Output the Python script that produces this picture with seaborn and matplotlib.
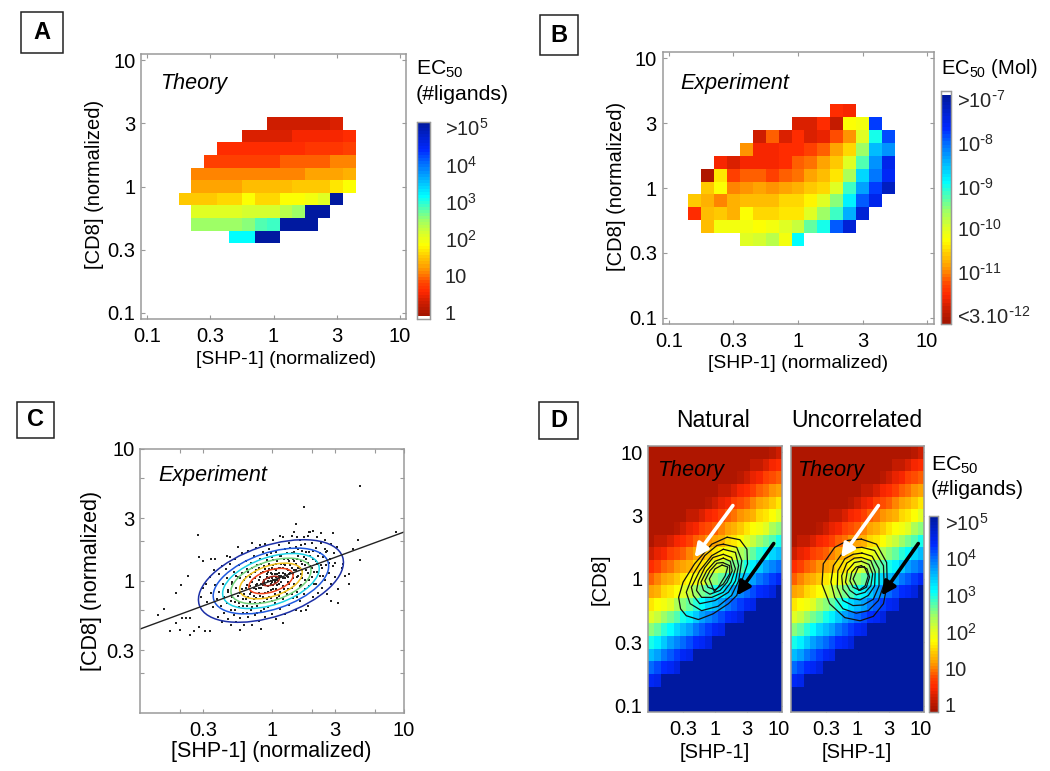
import numpy as np
import pandas as pd
import seaborn as sns
import matplotlib.pyplot as plt
from matplotlib.colors import LinearSegmentedColormap
from matplotlib.patches import Ellipse, Rectangle

W, H = 1050, 771

# Panel A: log10 positions of the rows, first column of each row, colour level of the cells
a_cd8 = [0.5, 0.4, 0.3, 0.2, 0.1, 0.0, -0.1, -0.2, -0.3, -0.4]
a_shp0 = [0.0, -0.2, -0.4, -0.5, -0.6, -0.6, -0.7, -0.6, -0.6, -0.3]
a_vals = [
    [.35, .35, .35, .35, .35, .45],
    [.45, .45, .45, .45, .6, .6, .6, .6, .7],
    [.65, .65, .65, .65, .65, .65, .65, .72, .72, .72, .85],
    [.85, .85, .85, .85, .85, .85, .95, .95, .95, .95, 1.1, 1.1],
    [1.1, 1.1, 1.15, 1.15, 1.15, 1.15, 1.15, 1.15, 1.15, 1.25, 1.25, 1.3, 1.4],
    [1.3, 1.3, 1.3, 1.3, 1.45, 1.45, 1.45, 1.45, 1.5, 1.5, 1.55, 1.65, 1.8],
    [1.5, 1.5, 1.5, 1.6, 1.6, 1.8, 1.6, 1.6, 1.85, 1.85, 1.95, 2.1, 5],
    [2.05, 2.05, 2.05, 2.05, 2.12, 2.12, 2.12, 2.3, 2.45, 5, 5],
    [2.45, 2.45, 2.45, 2.45, 2.55, 2.75, 2.85, 5, 5, 5],
    [3.1, 3.1, 5, 5],
]

# Panel B
b_cd8 = [0.6, 0.5, 0.4, 0.3, 0.2, 0.1, 0.0, -0.1, -0.2, -0.3, -0.4]
b_shp0 = [0.3, 0.0, -0.3, -0.4, -0.6, -0.7, -0.7, -0.8, -0.8, -0.7, -0.4]
b_vals = [
    [.7, .55],
    [.45, .45, .65, .25, 1.8, 1.95, 4.2],
    [.35, 1.0, .45, .65, .45, .5, .9, 1.2, 2.1, 3.0, 4.1],
    [1.2, .55, .55, .65, .65, .85, 1.0, 1.3, 1.6, 2.45, 3.5, 3.7],
    [.55, .45, .55, .6, .55, .65, 1.0, 1.05, 1.25, 1.5, 2.05, 2.8, 3.7, 4.4],
    [.1, 1.65, .8, 1.0, 1.0, .85, .95, 1.05, 1.25, 1.45, 1.7, 2.35, 3.3, 3.85, 4.3],
    [1.5, 1.8, 1.15, 1.2, 1.25, 1.2, 1.25, 1.35, 1.5, 1.6, 2.05, 2.85, 3.6, 4.2, 4.7],
    [1.5, 1.4, 1.15, 1.35, 1.45, 1.45, 1.45, 1.6, 1.6, 1.75, 2.05, 2.5, 3.15, 4.0, 4.4],
    [.7, 1.45, 1.55, 1.35, 1.8, 1.6, 1.6, 1.7, 1.7, 2.1, 2.45, 2.85, 3.55, 4.6],
    [1.45, 1.95, 1.95, 1.95, 1.85, 1.95, 2.1, 2.2, 2.7, 3.0, 4.0, 4.6],
    [2.05, 2.15, 2.3, 1.95, 3.1],
]

# Panel C: cells, log10 [SHP-1] and log10 [CD8]
c_shp = [
    .67, .24, .18, -.56, .94, .65, .67, .58, .58, .55, .50, .50, .45, -.73, -.69, -.64,
    -.55, -.52, -.46, -.43, -.82, -.86, -.77, -.70, -.62, -.59, -.55, -.51, -.47, -.73,
    -.68, -.65, -.62, -.24, -.08, .08, .22, .26, .40, .46, .37, .31, .29, .28, .17, .06,
    .19, .24, -.15, -.26, -.09, -.34, -.32, .61, .54, .53, .48,
    -.54, -.52, -.50, -.49, -.47, -.46, -.45, -.44, -.43, -.42, -.41, -.40, -.40, -.39,
    -.38, -.38, -.37, -.36, -.36, -.35, -.34, -.34, -.33, -.33, -.32, -.31, -.31, -.30,
    -.30, -.29, -.29, -.28, -.28, -.27, -.27, -.26, -.25, -.25, -.24, -.24, -.23, -.23,
    -.22, -.22, -.21, -.21, -.20, -.20, -.19, -.19, -.18, -.18, -.17, -.17, -.16, -.16,
    -.15, -.15, -.14, -.14, -.13, -.13, -.12, -.12, -.11, -.11, -.10, -.10, -.09, -.09,
    -.08, -.08, -.07, -.07, -.06, -.06, -.05, -.05, -.04, -.04, -.03, -.03, -.02, -.02,
    -.01, -.01, 0, 0, 0, .01, .01, .01, .02, .02, .03, .03, .03, .04, .04, .05, .05, .05,
    .06, .06, .07, .07, .08, .08, .08, .09, .09, .10, .10, .10, .11, .11, .12, .12, .13,
    .13, .13, .14, .15, .15, .15, .16, .16, .17, .17, .18, .18, .19, .19, .20, .20, .21,
    .21, .22, .22, .23, .23, .24, .25, .25, .26, .26, .27, .27, .28, .28, .29, .30, .30,
    .31, .31, .32, .33, .33, .34, .34, .35, .36, .36, .37, .38, .38, .39, .40, .40, .41,
    .42, .42, .43, .44, .45, .45, .46, .47, .48, .49,
    -.03, -.02, -.01, 0, 0, .01, .02, .03, .04, -.05, -.06, -.08, .06, .08, .05, -.04,
    .02, -.10, .10, -.12, .12,
    -.33, -.31, -.30, -.28, -.27, -.26, -.25, -.24, -.23, -.22, -.21, -.20, -.20, -.19,
    -.19, -.18, -.18, -.17, -.17, -.16, -.16, -.15, -.15, -.14, -.14, -.13, -.13, -.12,
    -.12, -.11, -.11, -.10, -.10, -.09, -.09, -.08, -.08, -.07, -.07, -.06, -.06, -.05,
    -.05, -.04, -.04, -.03, -.03, -.02, -.02, -.01, -.01, -.01, 0, 0, .01, .01, .02, .02,
    .03, .03, .04, .04, .05, .05, .06, .06, .07, .07, .08, .08, .09, .09, .10, .10, .11,
    .11, .12, .12, .13, .13, .14, .14, .15, .15, .16, .16, .17, .17, .18, .18, .19, .19,
    .20, .20, .21, .21, .22, .22, .23, .23, .24, .25, .25, .26, .27, .27, .28, .29, .30,
    .31, .32, .33, .34, .35, .37, .39, .41, .43,
]
c_cd8 = [
    .72, .56, .43, .35, .37, .31, .16, .05, -.02, .04, -.06, -.17, -.15, -.09, -.03, .04,
    .18, .15, .17, .17, -.21, -.26, -.38, -.37, -.41, -.38, -.35, -.38, -.38, -.32,
    -.28, -.28, -.28, -.37, -.36, -.32, -.23, -.22, .24, .36, .36, .38, .37, .37, .37, .34,
    .33, .33, .29, .26, .27, .19, .18, .24, .13, .10, .14,
    -.12, -.05, -.02, -.16, .03, -.09, -.20, .08, -.03, -.14, -.27, .05, -.08, -.19,
    .11, -.31, -.02, -.12, -.24, .09, .02, -.17, -.29, -.07, .13, -.22, -.33, -.01,
    -.12, .07, -.26, .17, -.16, -.05, -.31, .03, .12, -.20, -.09, -.28, .21, .06,
    -.14, -.24, .01, -.33, .15, -.05, -.19, .09, -.27, .23, -.10, .03, -.22, .14,
    -.33, -.01, .19, -.14, .07, -.26, -.06, .25, .12, -.19, .01, -.30, .17, -.11,
    .06, -.23, .22, -.03, .11, -.16, -.27, .28, .03, .16, -.08, -.20, .09, .24,
    -.02, -.13, .05, .18, -.25, -.06, .12, .31, .01, -.17, .08, .22, -.29, -.03, .15, -.11, .04, .27,
    -.21, .10, -.01, .19, .06, -.14, .33, .13, -.06, .24, .02, -.25, .09, -.10, .17, -.01, .29,
    .05, -.18, .12, -.05, .21, .34, .02, -.13, .15, .08, -.22, .26, .03, -.08, .19, .10, -.15,
    .31, .05, -.03, .23, .13, -.10, .28, .01, .17, .08, -.19, .34, -.04, .22, .11, .03, .29,
    -.12, .17, .07, .25, -.02, .33, .13, -.09, .21, .04, .29, .10, -.05, .18, .01, .31, .12,
    -.10, .23, .06, .17, .28, -.02, .11, .21, .03, .26,
    0, .02, 0, -.01, .02, .01, -.01, .03, .01, -.03, .01, -.02, .03, .02, .06, .05,
    .05, -.05, .05, -.03, .03,
    -.08, -.15, -.02, -.22, .04, -.11, -.17, .02, -.06, -.19, -.10, -.14, .03, -.03,
    -.24, .07, -.12, -.16, -.04, .05, -.08, -.20, .10, -.05, -.11, .02, -.17, .08,
    -.13, -.02, -.24, .10, -.09, .03, -.17, -.05, .13, -.12, .07, -.21, -.01, .09,
    -.09, -.14, .20, .07, -.04, -.12, .13, -.07, .06, .21, -.15, .10, -.03, .16, -.10, .09,
    -.06, .13, .05, -.13, .10, -.02, .19, -.08, .04, .13, -.04, .10, .02, .17, -.08, .12, .04,
    .21, -.06, .08, .15, -.02, .06, .25, .10, -.10, .17, .05, -.02, .22, .08, .13, -.12, .17,
    .04, .24, .10, -.04, .15, .27, .02, .08, .18, .12, -.06, .22, .06, .14, .01, .19, .10,
    .23, -.02, .15, .07, .19, .12, .04, .22, .14,
]
fit_shp = [-1.0, 1.0]
fit_cd8 = [-.364, .371]
# fitted ellipses of the cloud
ell_w = [1.145, .912, .763, .632, .495, .35, .132]
ell_h = [.536, .427, .358, .296, .232, .164, .062]
ell_colors = ['#1c2fa6', '#1e58de', '#1cd2e6', '#72d27a', '#f2c21e', '#f0421a', '#a8261a']
ell_center = (-.008, 0.0)
ell_angle = 18.6

# Panel D: theory landscape, top row is [CD8] = 10
d_vals = [
    [.1] * 18 + [.15, .2, .35],
    [.1] * 15 + [.1, .25, .3, .45, .55, .7],
    [.1] * 13 + [.15, .2, .35, .5, .6, .8, .9, 1.0],
    [.1] * 10 + [.1, .25, .3, .45, .55, .7, .85, .95, 1.05, 1.2, 1.3],
    [.1] * 8 + [.15, .2, .35, .5, .6, .8, .9, 1.0, 1.1, 1.25, 1.35, 1.5, 1.65],
    [.1] * 5 + [.1, .25, .3, .45, .55, .7, .85, .95, 1.05, 1.2, 1.3, 1.4, 1.6, 1.7, 1.85, 2.05],
    [.1] * 3 + [.15, .2, .35, .5, .6, .8, .9, 1.0, 1.1, 1.25, 1.35, 1.5, 1.65, 1.8, 1.95, 2.1, 2.35, 2.55],
    [.1, .25, .3, .45, .55, .7, .85, .95, 1.05, 1.2, 1.3, 1.4, 1.6, 1.7, 1.85, 2.05, 2.2, 2.45, 2.6, 2.8, 3.0],
    [.35, .5, .6, .8, .9, 1.0, 1.1, 1.25, 1.35, 1.5, 1.65, 1.8, 1.95, 2.1, 2.35, 2.55, 2.7, 2.9, 3.1, 3.3, 3.5],
    [.7, .85, .95, 1.05, 1.2, 1.3, 1.4, 1.6, 1.7, 1.85, 2.05, 2.2, 2.45, 2.6, 2.8, 3.0, 3.2, 3.4, 3.6, 3.75, 3.95],
    [1.0, 1.1, 1.25, 1.35, 1.5, 1.65, 1.8, 1.95, 2.1, 2.35, 2.55, 2.7, 2.9, 3.1, 3.3, 3.5, 3.65, 3.85, 4.0, 4.15, 4.3],
    [1.3, 1.4, 1.6, 1.7, 1.85, 2.05, 2.2, 2.45, 2.6, 2.8, 3.0, 3.2, 3.4, 3.6, 3.75, 3.95, 4.1, 4.25, 4.35, 4.5, 5],
    [1.65, 1.8, 1.95, 2.1, 2.35, 2.55, 2.7, 2.9, 3.1, 3.3, 3.5, 3.65, 3.85, 4.0, 4.15, 4.3, 4.4, 5, 5, 5, 5],
    [2.05, 2.2, 2.45, 2.6, 2.8, 3.0, 3.2, 3.4, 3.6, 3.75, 3.95, 4.1, 4.25, 4.35, 4.5] + [5] * 6,
    [2.55, 2.7, 2.9, 3.1, 3.3, 3.5, 3.65, 3.85, 4.0, 4.15, 4.3, 4.4] + [5] * 9,
    [3.0, 3.2, 3.4, 3.6, 3.75, 3.95, 4.1, 4.25, 4.35, 4.5] + [5] * 11,
    [3.5, 3.65, 3.85, 4.0, 4.15, 4.3, 4.4] + [5] * 14,
    [3.95, 4.1, 4.25, 4.35, 4.5] + [5] * 16,
    [4.3, 4.4] + [5] * 19,
    [5] * 21,
    [5] * 21,
]

# cell density contours, log10 coordinates
nat_x = [
    [.19, .39, .50, .51, .42, .34, .21, -.03, -.26, -.45, -.54, -.57, -.50, -.32, -.05],
    [.13, .34, .42, .37, .26, .05, -.21, -.39, -.45, -.34, -.16, .03],
    [.13, .32, .37, .32, .21, 0, -.24, -.34, -.37, -.24, -.05],
    [.13, .26, .32, .25, .13, -.05, -.21, -.29, -.26, -.16, -.03],
    [.13, .24, .27, .19, .08, -.08, -.18, -.22, -.13, 0],
    [.12, .23, .23, .13, 0, -.11, -.16, -.08, .03],
    [.11, .20, .16, .05, -.01, -.09, 0],
]
nat_y = [
    [.33, .31, .235, .12, -.015, -.13, -.195, -.275, -.32, -.29, -.235, -.145, -.025, .12, .275],
    [.275, .25, .145, -.015, -.13, -.215, -.25, -.195, -.105, .04, .185, .265],
    [.235, .21, .105, -.015, -.105, -.17, -.195, -.13, -.065, .065, .185],
    [.195, .17, .08, -.025, -.105, -.145, -.145, -.09, -.015, .09, .17],
    [.165, .14, .065, -.025, -.09, -.12, -.09, -.025, .065, .14],
    [.13, .105, .04, -.04, -.085, -.065, -.015, .065, .125],
    [.11, .095, .025, -.065, -.10, 0, .08],
]
unc_x = [
    [.06, .30, .46, .47, .41, .25, .04, -.20, -.44, -.56, -.54, -.36, -.15],
    [.07, .27, .41, .42, .33, .17, -.02, -.23, -.36, -.42, -.38, -.23, -.07],
    [.07, .23, .34, .34, .25, .09, -.07, -.23, -.32, -.31, -.2, -.07],
    [.06, .21, .28, .27, .17, .04, -.12, -.23, -.25, -.17, -.05],
    [.06, .18, .24, .21, .12, -.02, -.12, -.19, -.16, -.05],
    [.06, .15, .19, .14, .04, -.07, -.12, -.09, -.02],
    [.11, .17, .12, .02, -.07, .01],
]
unc_y = [
    [.315, .275, .13, -.04, -.195, -.295, -.33, -.305, -.195, -.04, .12, .25, .305],
    [.25, .225, .105, -.04, -.17, -.25, -.27, -.235, -.145, -.025, .105, .21, .245],
    [.205, .18, .08, -.055, -.16, -.205, -.21, -.17, -.065, .065, .16, .195],
    [.17, .145, .055, -.055, -.13, -.165, -.15, -.08, .025, .125, .165],
    [.14, .115, .04, -.055, -.105, -.125, -.09, -.025, .065, .13],
    [.105, .08, .015, -.065, -.09, -.065, -.015, .055, .095],
    [.095, .025, -.055, -.09, 0, .09],
]

tick_log = [-1.0, -0.5, 0.0, 0.5, 1.0]
tick_names = ['0.1', '0.3', '1', '3', '10']


def mt(s):
    return '$\\mathregular{' + s + '}$'


def neg(n):
    return mt('10^{\\text{-}' + str(n) + '}')


ligand_labels = ['1', '10', mt('10^{2}'), mt('10^{3}'), mt('10^{4}'), '>' + mt('10^{5}')]
mol_labels = ['<3.' + neg(12), neg(11), neg(10), neg(9), neg(8), '>' + neg(7)]

sns.set_theme(style='white')
plt.rcParams['font.family'] = ['Liberation Sans', 'DejaVu Sans']
plt.rcParams['mathtext.default'] = 'regular'
plt.rcParams['font.size'] = 14.5
plt.rcParams['text.color'] = 'black'
plt.rcParams['axes.labelcolor'] = 'black'

GREY = '#9a9a9a'
FS = 14.5

# the colour scale
cmap = LinearSegmentedColormap.from_list('ec50', [
    (0.0, (165 / 255, 20 / 255, 0)), (.07, (210 / 255, 30 / 255, 0)), (.12, (1, 40 / 255, 0)),
    (.17, (1, 70 / 255, 0)), (.22, (1, 130 / 255, 0)), (.26, (1, 170 / 255, 0)),
    (.30, (1, 200 / 255, 0)), (.36, (1, 1, 0)), (.42, (220 / 255, 1, 40 / 255)),
    (.49, (160 / 255, 1, 100 / 255)), (.54, (100 / 255, 1, 160 / 255)), (.62, (0, 1, 1)),
    (.72, (0, 170 / 255, 1)), (.80, (0, 100 / 255, 1)), (.86, (0, 40 / 255, 1)),
    (1.0, (0, 25 / 255, 160 / 255)),
], N=64)

fig = plt.figure(figsize=(W / 100, H / 100), dpi=100)


def add_axes(x0, y0, x1, y1):
    return fig.add_axes([x0 / W, 1 - y1 / H, (x1 - x0) / W, (y1 - y0) / H])


def ftext(x, y, s, **kw):
    kw.setdefault('ha', 'left')
    kw.setdefault('va', 'center')
    kw.setdefault('fontsize', FS)
    fig.text(x / W, 1 - y / H, s, **kw)


def panel_box(x0, y0, x1, y1, letter):
    fig.add_artist(Rectangle((x0 / W, 1 - y1 / H), (x1 - x0) / W, (y1 - y0) / H,
                             transform=fig.transFigure, fill=False, ec='#222222', lw=1.1))
    ftext((x0 + x1) / 2, (y0 + y1) / 2, letter, ha='center', fontsize=17, fontweight='bold')


def grid_from_rows(ys, x0s, vals):
    grid = pd.DataFrame(np.nan, index=range(21), columns=range(21))
    for y, x0, row in zip(ys, x0s, vals):
        i = int(round((1.0 - y) * 10))
        j0 = int(round((x0 + 1.0) * 10))
        for k, v in enumerate(row):
            grid.iloc[i, j0 + k] = v
    return grid


def to_cx(v):
    return (np.asarray(v) + 1.05) * 10


def to_cy(v):
    return (1.05 - np.asarray(v)) * 10


def style_box(ax):
    for s in ax.spines.values():
        s.set_visible(True)
        s.set_color(GREY)
        s.set_linewidth(1.1)
    ax.tick_params(which='both', direction='in', length=3, width=0.8, color=GREY,
                   top=True, right=True, bottom=True, left=True,
                   labelsize=FS, labelcolor='black', pad=4)


def axis_labels(ax, box, xl, xpos, yl, ypos, fs=FS, xfs=13.9):
    x0, y0, x1, y1 = box
    ax.set_xlabel(xl, fontsize=xfs, color='black')
    ax.set_ylabel(yl, fontsize=fs, color='black')
    ax.xaxis.label.set_va('center')
    ax.yaxis.label.set_va('center')
    ax.xaxis.set_label_coords((xpos[0] - x0) / (x1 - x0), (y1 - xpos[1]) / (y1 - y0))
    ax.yaxis.set_label_coords((ypos[0] - x0) / (x1 - x0), (y1 - ypos[1]) / (y1 - y0))


def heat(box, cbox, grid, ticks, labels, minor, strip=None, pad=10.5, xt=tick_log, xn=tick_names):
    ax = add_axes(*box)
    cax = add_axes(*cbox) if cbox else None
    sns.heatmap(grid, ax=ax, cmap=cmap, vmin=0, vmax=5, cbar=cax is not None, cbar_ax=cax,
                xticklabels=False, yticklabels=False, square=False)
    ax.set_xticks(to_cx(xt), xn)
    ax.set_yticks(to_cy(tick_log), tick_names, rotation=0)
    style_box(ax)
    ax.tick_params(axis='x', pad=6)
    if cax is not None:
        cax.set_yticks(ticks, labels)
        cax.set_yticks(minor, minor=True)
        cax.tick_params(axis='y', which='major', length=0, right=True, left=False, pad=pad, labelsize=FS)
        cax.tick_params(axis='y', which='minor', length=3, width=0.7, color='#333333',
                        left=True, right=False, direction='in')
        if strip is not None:
            cax.set_ylim(*strip)
        for s in cax.spines.values():
            s.set_visible(True)
            s.set_color(GREY)
            s.set_linewidth(0.9)
    return ax


# --- A
box_a = (141, 54, 406, 319)
grid_a = grid_from_rows(a_cd8, a_shp0, a_vals)
ax_a = heat(box_a, (417, 122, 430, 319), grid_a, [.1, 1.05, 2, 2.95, 3.9, 4.875], ligand_labels,
            [1.47, 3.04, 4.6], strip=(-.077, 5))
axis_labels(ax_a, box_a, '[SHP-1] (normalized)', (286, 360), '[CD8] (normalized)', (94, 184))
ftext(160, 84, 'Theory', style='italic', fontsize=15.5)
ftext(416, 69, 'EC$_{50}$', fontsize=15.3)
ftext(416, 95, '(#ligands)', fontsize=15.3)
panel_box(21, 12, 63, 53, 'A')

# --- B
box_b = (662.5, 52, 933.5, 324)
grid_b = grid_from_rows(b_cd8, b_shp0, b_vals)
ax_b = heat(box_b, (941, 91, 951, 324), grid_b, [.2, 1.13, 2.1, 3.0, 3.95, 4.9], mol_labels,
            [.6, 1.75, 2.85, 4.0], strip=(0, 5.08), pad=4.5)
axis_labels(ax_b, box_b, '[SHP-1] (normalized)', (798, 363), '[CD8] (normalized)', (616, 186))
ftext(680, 84, 'Experiment', style='italic', fontsize=15.5)
ftext(941, 69, 'EC$_{50}$ (Mol)')
panel_box(540, 15, 578, 55, 'B')

# --- C
box_c = (140, 449, 404, 713)
ax_c = add_axes(*box_c)
cells = pd.DataFrame({'shp': c_shp, 'cd8': c_cd8})
sns.scatterplot(data=cells, x='shp', y='cd8', ax=ax_c, color='#222222', s=3, marker='s', linewidth=0)
ax_c.plot(fit_shp, fit_cd8, color='#222222', lw=1.0)
for w, h, col in zip(ell_w, ell_h, ell_colors):
    ax_c.add_patch(Ellipse(ell_center, w, h, angle=ell_angle, fill=False, ec=col, lw=1.1))
ax_c.set_xlim(-1, 1)
ax_c.set_ylim(-1, 1)
ax_c.set_xticks(np.log10([.3, 1, 3, 10]), ['0.3', '1', '3', '10'])
ax_c.set_yticks(np.log10([.3, 1, 3, 10]), ['0.3', '1', '3', '10'])
ax_c.set_xticks(np.log10([.2, 2, 6]), minor=True)
ax_c.set_yticks(np.log10([.2, .6, 2, 6]), minor=True)
style_box(ax_c)
ax_c.tick_params(axis='x', pad=6)
axis_labels(ax_c, box_c, '[SHP-1] (normalized)', (271, 752), '[CD8] (normalized)', (92, 581), fs=15.5, xfs=15.5)
ftext(158, 476, 'Experiment', style='italic', fontsize=15.5)
panel_box(17, 402, 54, 438, 'C')

# --- D
box_d1 = (648, 446, 782, 712)
box_d2 = (791, 446, 924, 712)
grid_d = pd.DataFrame(d_vals)
xt_d = [-0.5, 0.0, 0.5, 1.0]
xn_d = ['0.3', '1', '3', '10']
ax_d1 = heat(box_d1, None, grid_d, None, None, None, xt=xt_d, xn=xn_d)
ax_d2 = heat(box_d2, (929, 516, 938, 712), grid_d, [.18, 1.11, 2.05, 3.0, 3.93, 4.85], ligand_labels,
             [1.5, 3.0, 4.5], pad=5, xt=xt_d, xn=xn_d)
ax_d2.set_yticklabels([])
axis_labels(ax_d1, box_d1, '[SHP-1]', (715, 752), '[CD8]', (600, 579), xfs=FS)
axis_labels(ax_d2, box_d2, '[SHP-1]', (857, 752), '', (600, 579), xfs=FS)

for ax, xs, ys, wt, wh, bt, bh in [
    (ax_d1, nat_x, nat_y, (.28, .58), (-.32, .17), (.92, .28), (.34, -.13)),
    (ax_d2, unc_x, unc_y, (.33, .58), (-.26, .17), (.96, .28), (.38, -.13)),
]:
    for cx, cy in zip(xs, ys):
        ax.plot(to_cx(cx + cx[:1]), to_cy(cy + cy[:1]), color='#111111', lw=0.9)
    ax.annotate('', xy=(to_cx(wh[0]), to_cy(wh[1])), xytext=(to_cx(wt[0]), to_cy(wt[1])),
                arrowprops=dict(arrowstyle='-|>', color='white', lw=2.6, mutation_scale=20, shrinkA=0, shrinkB=0))
    ax.annotate('', xy=(to_cx(bh[0]), to_cy(bh[1])), xytext=(to_cx(bt[0]), to_cy(bt[1])),
                arrowprops=dict(arrowstyle='-|>', color='black', lw=2.6, mutation_scale=20, shrinkA=0, shrinkB=0))

ftext(657, 470, 'Theory', style='italic', fontsize=15.5)
ftext(797, 470, 'Theory', style='italic', fontsize=15.5)
ftext(713, 421, 'Natural', ha='center', fontsize=16.5)
ftext(857, 421, 'Uncorrelated', ha='center', fontsize=16.5)
ftext(931, 465, 'EC$_{50}$', fontsize=15.3)
ftext(931, 490, '(#ligands)', fontsize=15.3)
panel_box(539, 402, 578, 439, 'D')

fig.savefig('out.png', dpi=100)
